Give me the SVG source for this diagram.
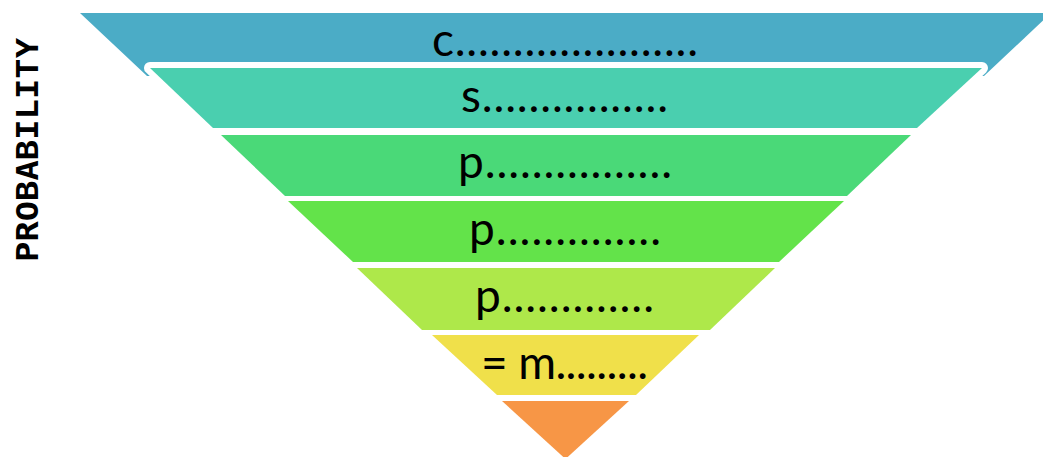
<svg xmlns="http://www.w3.org/2000/svg" width="1043" height="457" viewBox="0 0 1043 457">
  <style>
    .band-label { font-family: "Lato", "Noto Sans", sans-serif; font-size: 46px; fill: #000000; }
    .axis-label { font-family: "DejaVu Sans Mono", "Liberation Mono", monospace; font-size: 31px; font-weight: bold; fill: #000000; }
    .outlined { stroke: #FFFFFF; stroke-width: 12; stroke-linejoin: round; paint-order: stroke; }
  </style>
  <rect width="1043" height="457" fill="#FFFFFF"/>

  <!-- vertical axis caption -->
  <text class="axis-label" transform="translate(38,150) rotate(-90)" text-anchor="middle" textLength="224" lengthAdjust="spacingAndGlyphs">PROBABILITY</text>

  <!-- funnel tiers, widest at the top -->
  <g id="tier-1">
    <polygon points="80,13 1051,13 984,76 147,76" fill="#4BACC6"/>
    <text class="band-label" x="432" y="56" textLength="266" lengthAdjust="spacing">c.....................</text>
  </g>
  <g id="tier-2">
    <polygon class="outlined" points="150,68 982,68 917,128 213,128" fill="#4ACFAF"/>
    <text class="band-label" x="461" y="112" textLength="207" lengthAdjust="spacing">s................</text>
  </g>
  <g id="tier-3">
    <polygon points="221,135 911,135 847,196 285,196" fill="#4AD978"/>
    <text class="band-label" x="458" y="178" textLength="214" lengthAdjust="spacing">p................</text>
  </g>
  <g id="tier-4">
    <polygon points="288,201 844,201 779,262 353,262" fill="#63E34A"/>
    <text class="band-label" x="469" y="245" textLength="192" lengthAdjust="spacing">p..............</text>
  </g>
  <g id="tier-5">
    <polygon points="357,268 775,268 710,330 422,330" fill="#AEE84A"/>
    <text class="band-label" x="475" y="312" textLength="179" lengthAdjust="spacing">p.............</text>
  </g>
  <g id="tier-6">
    <polygon points="432,335 699,335 636,395 497,395" fill="#F0E04A"/>
    <text class="band-label" x="481" y="379" textLength="167" lengthAdjust="spacing">= m.........</text>
  </g>
  <g id="tier-7">
    <polygon points="502,401 629,401 565.5,459" fill="#F79646"/>
  </g>

  <g id="connectors"/>
</svg>
